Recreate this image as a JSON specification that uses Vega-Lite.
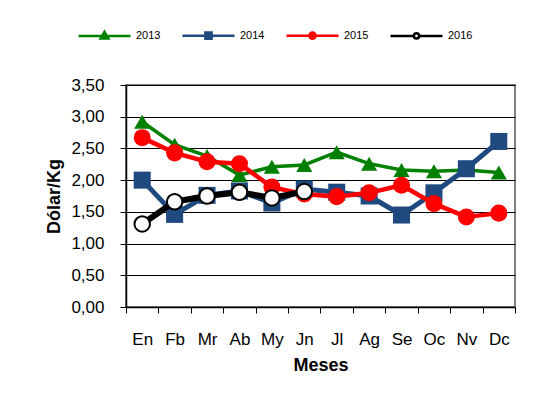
{
  "$schema": "https://vega.github.io/schema/vega-lite/v6.json",
  "width": 389,
  "height": 222,
  "autosize": {"type": "none"},
  "padding": {"left": 126, "top": 85, "right": 19, "bottom": 96},
  "background": "white",
  "config": {
    "font": "Liberation Sans",
    "view": {"stroke": "#808080", "strokeWidth": 2}
  },
  "data": {
    "values": [
      {"mes": "En", "year": "2013", "v": 2.92},
      {"mes": "Fb", "year": "2013", "v": 2.56},
      {"mes": "Mr", "year": "2013", "v": 2.38},
      {"mes": "Ab", "year": "2013", "v": 2.08},
      {"mes": "My", "year": "2013", "v": 2.21},
      {"mes": "Jn", "year": "2013", "v": 2.24},
      {"mes": "Jl", "year": "2013", "v": 2.44},
      {"mes": "Ag", "year": "2013", "v": 2.26},
      {"mes": "Se", "year": "2013", "v": 2.16},
      {"mes": "Oc", "year": "2013", "v": 2.14},
      {"mes": "Nv", "year": "2013", "v": 2.16},
      {"mes": "Dc", "year": "2013", "v": 2.12},
      {"mes": "En", "year": "2014", "v": 2.00},
      {"mes": "Fb", "year": "2014", "v": 1.46},
      {"mes": "Mr", "year": "2014", "v": 1.76},
      {"mes": "Ab", "year": "2014", "v": 1.83},
      {"mes": "My", "year": "2014", "v": 1.64},
      {"mes": "Jn", "year": "2014", "v": 1.86},
      {"mes": "Jl", "year": "2014", "v": 1.81},
      {"mes": "Ag", "year": "2014", "v": 1.75},
      {"mes": "Se", "year": "2014", "v": 1.45},
      {"mes": "Oc", "year": "2014", "v": 1.80},
      {"mes": "Nv", "year": "2014", "v": 2.18},
      {"mes": "Dc", "year": "2014", "v": 2.61},
      {"mes": "En", "year": "2015", "v": 2.67},
      {"mes": "Fb", "year": "2015", "v": 2.43},
      {"mes": "Mr", "year": "2015", "v": 2.29},
      {"mes": "Ab", "year": "2015", "v": 2.26},
      {"mes": "My", "year": "2015", "v": 1.89},
      {"mes": "Jn", "year": "2015", "v": 1.78},
      {"mes": "Jl", "year": "2015", "v": 1.74},
      {"mes": "Ag", "year": "2015", "v": 1.80},
      {"mes": "Se", "year": "2015", "v": 1.92},
      {"mes": "Oc", "year": "2015", "v": 1.63},
      {"mes": "Nv", "year": "2015", "v": 1.42},
      {"mes": "Dc", "year": "2015", "v": 1.48},
      {"mes": "En", "year": "2016", "v": 1.31},
      {"mes": "Fb", "year": "2016", "v": 1.66},
      {"mes": "Mr", "year": "2016", "v": 1.75},
      {"mes": "Ab", "year": "2016", "v": 1.81},
      {"mes": "My", "year": "2016", "v": 1.72},
      {"mes": "Jn", "year": "2016", "v": 1.82}
    ]
  },
  "encoding": {
    "x": {
      "field": "mes",
      "type": "nominal",
      "sort": ["En", "Fb", "Mr", "Ab", "My", "Jn", "Jl", "Ag", "Se", "Oc", "Nv", "Dc"],
      "scale": {"type": "band", "paddingInner": 0, "paddingOuter": 0},
      "axis": {
        "title": "Meses",
        "titleFontSize": 18,
        "titleFontWeight": "bold",
        "titleColor": "black",
        "titlePadding": 9,
        "labelFontSize": 17,
        "labelColor": "black",
        "labelAngle": 0,
        "labelPadding": 18,
        "tickBand": "extent",
        "tickSize": 6,
        "tickColor": "black",
        "domainColor": "black",
        "domainWidth": 1.5,
        "grid": false
      }
    },
    "y": {
      "field": "v",
      "type": "quantitative",
      "scale": {"domain": [0, 3.5], "nice": false, "zero": true},
      "axis": {
        "title": "Dólar/Kg",
        "titleFontSize": 18,
        "titleFontWeight": "bold",
        "titleColor": "black",
        "titlePadding": 7,
        "values": [0, 0.5, 1, 1.5, 2, 2.5, 3, 3.5],
        "labelExpr": "replace(format(datum.value, '.2f'), '.', ',')",
        "labelFontSize": 17,
        "labelColor": "black",
        "labelPadding": 16,
        "tickSize": 6,
        "tickColor": "black",
        "domainColor": "black",
        "domainWidth": 1.5,
        "grid": true,
        "gridColor": "black",
        "gridWidth": 1
      }
    }
  },
  "layer": [
    {
      "transform": [{"filter": "datum.year === '2013'"}],
      "mark": {"type": "line", "strokeWidth": 3.5},
      "encoding": {
        "color": {
          "field": "year",
          "type": "nominal",
          "scale": {"domain": ["2013", "2014", "2015", "2016"], "range": ["#008000", "#1F4A7F", "#FF0000", "#000000"]},
          "legend": {
            "title": null,
            "orient": "none",
            "legendX": -49,
            "legendY": -77,
            "direction": "horizontal",
            "symbolSize": 2704,
            "labelFontSize": 11,
            "labelColor": "black",
            "labelOffset": 4,
            "columnPadding": 16,
            "encode": {
              "symbols": {
                "update": {
                  "shape": {"signal": "datum.value === '2013' ? 'M-1,0H1M0,-0.16L0.15,0.1L-0.15,0.1Z' : datum.value === '2014' ? 'M-1,0H1M-0.12,-0.12H0.12V0.12H-0.12Z' : datum.value === '2015' ? 'M-1,0H1M-0.12,0A0.12,0.12 0 1,0 0.12,0A0.12,0.12 0 1,0 -0.12,0Z' : 'M-1,0H-0.1M0.1,0H1M-0.1,0A0.1,0.1 0 1,0 0.1,0A0.1,0.1 0 1,0 -0.1,0Z'"},
                  "fill": {"signal": "datum.value === '2016' ? 'white' : scale('color', datum.value)"},
                  "stroke": {"signal": "scale('color', datum.value)"},
                  "strokeWidth": {"value": 2.5},
                  "opacity": {"value": 1}
                }
              }
            }
          }
        }
      }
    },
    {
      "transform": [{"filter": "datum.year === '2013'"}],
      "mark": {"type": "point", "shape": "triangle-up", "filled": true, "size": 260, "color": "#008000", "opacity": 1}
    },
    {
      "transform": [{"filter": "datum.year === '2014'"}],
      "mark": {"type": "line", "strokeWidth": 5},
      "encoding": {"color": {"field": "year", "type": "nominal"}}
    },
    {
      "transform": [{"filter": "datum.year === '2014'"}],
      "mark": {"type": "point", "shape": "square", "filled": true, "size": 290, "color": "#1F4A7F", "opacity": 1}
    },
    {
      "transform": [{"filter": "datum.year === '2015'"}],
      "mark": {"type": "line", "strokeWidth": 4.5},
      "encoding": {"color": {"field": "year", "type": "nominal"}}
    },
    {
      "transform": [{"filter": "datum.year === '2015'"}],
      "mark": {"type": "point", "shape": "circle", "filled": true, "size": 290, "color": "#FF0000", "opacity": 1}
    },
    {
      "transform": [{"filter": "datum.year === '2016'"}],
      "mark": {"type": "line", "strokeWidth": 6},
      "encoding": {"color": {"field": "year", "type": "nominal"}}
    },
    {
      "transform": [{"filter": "datum.year === '2016'"}],
      "mark": {"type": "point", "shape": "circle", "filled": true, "size": 240, "fill": "white", "stroke": "black", "strokeWidth": 2, "opacity": 1}
    }
  ]
}
